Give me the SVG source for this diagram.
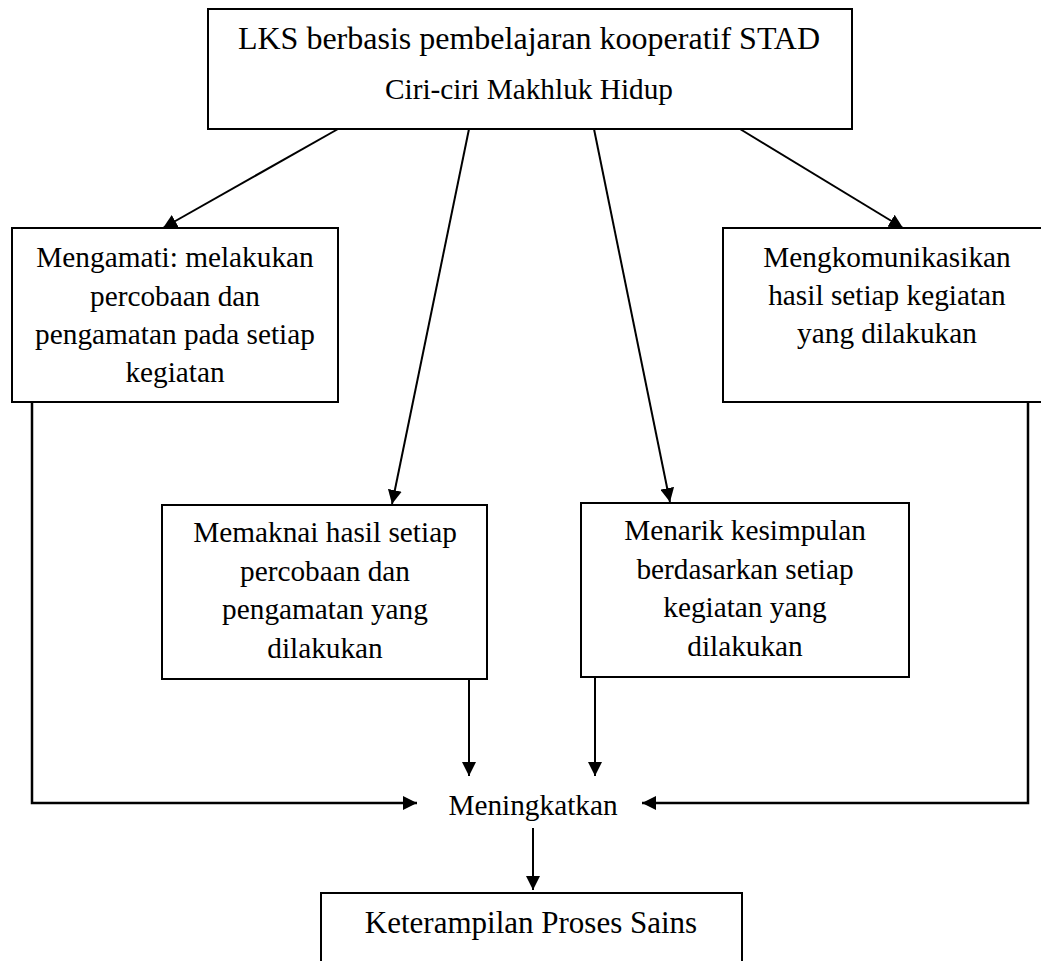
<svg xmlns="http://www.w3.org/2000/svg" width="1041" height="961" viewBox="0 0 1041 961">
<style>
.box{fill:#fff;stroke:#000;stroke-width:2}
.t{font-family:"Liberation Serif","Times New Roman",serif;font-size:29.3px;fill:#000;text-anchor:middle}
.big{font-size:32px}
.c{fill:none;stroke:#000;stroke-width:2}
.h{stroke-width:2.5}
</style>
<defs>
<marker id="ah" markerUnits="userSpaceOnUse" markerWidth="14" markerHeight="14" refX="14" refY="7" orient="auto">
<path d="M0,0 L14,7 L0,14 Z" fill="#000"/>
</marker>
</defs>
<rect width="1041" height="961" fill="#fff"/>
<g id="connectors">
<line class="c" x1="338" y1="129" x2="163" y2="228" marker-end="url(#ah)"/>
<line class="c" x1="469" y1="129" x2="392" y2="504" marker-end="url(#ah)"/>
<line class="c" x1="594" y1="129" x2="670" y2="502" marker-end="url(#ah)"/>
<line class="c" x1="740" y1="129" x2="903" y2="228" marker-end="url(#ah)"/>
<polyline class="c h" points="32,402 32,803 417,803" marker-end="url(#ah)"/>
<polyline class="c h" points="1028,402 1028,803 642,803" marker-end="url(#ah)"/>
<line class="c" x1="469" y1="679" x2="469" y2="776" marker-end="url(#ah)"/>
<line class="c" x1="595" y1="677" x2="595" y2="776" marker-end="url(#ah)"/>
<line class="c" x1="533" y1="828" x2="533" y2="890" marker-end="url(#ah)"/>
</g>
<g id="node-top">
<rect class="box" x="208" y="9" width="644" height="120"/>
<text class="t big" x="529" y="49">LKS berbasis pembelajaran kooperatif STAD</text>
<text class="t" x="529" y="99">Ciri-ciri Makhluk Hidup</text>
</g>
<g id="node-mengamati">
<rect class="box" x="12" y="228" width="326" height="174"/>
<text class="t" x="175" y="267">Mengamati: melakukan</text>
<text class="t" x="175" y="306">percobaan dan</text>
<text class="t" x="175" y="344">pengamatan pada setiap</text>
<text class="t" x="175" y="382">kegiatan</text>
</g>
<g id="node-mengkomunikasikan">
<rect class="box" x="723" y="228" width="330" height="174"/>
<text class="t" x="887" y="267">Mengkomunikasikan</text>
<text class="t" x="887" y="305">hasil setiap kegiatan</text>
<text class="t" x="887" y="343">yang dilakukan</text>
</g>
<g id="node-memaknai">
<rect class="box" x="162" y="505" width="325" height="174"/>
<text class="t" x="325" y="542">Memaknai hasil setiap</text>
<text class="t" x="325" y="581">percobaan dan</text>
<text class="t" x="325" y="619">pengamatan yang</text>
<text class="t" x="325" y="658">dilakukan</text>
</g>
<g id="node-menarik">
<rect class="box" x="581" y="503" width="328" height="174"/>
<text class="t" x="745" y="540">Menarik kesimpulan</text>
<text class="t" x="745" y="579">berdasarkan setiap</text>
<text class="t" x="745" y="617">kegiatan yang</text>
<text class="t" x="745" y="656">dilakukan</text>
</g>
<g id="node-meningkatkan">
<text class="t" x="533" y="815">Meningkatkan</text>
</g>
<g id="node-kps">
<rect class="box" x="321" y="893" width="421" height="100"/>
<text class="t" x="531" y="933" style="font-size:31px">Keterampilan Proses Sains</text>
</g>
</svg>
